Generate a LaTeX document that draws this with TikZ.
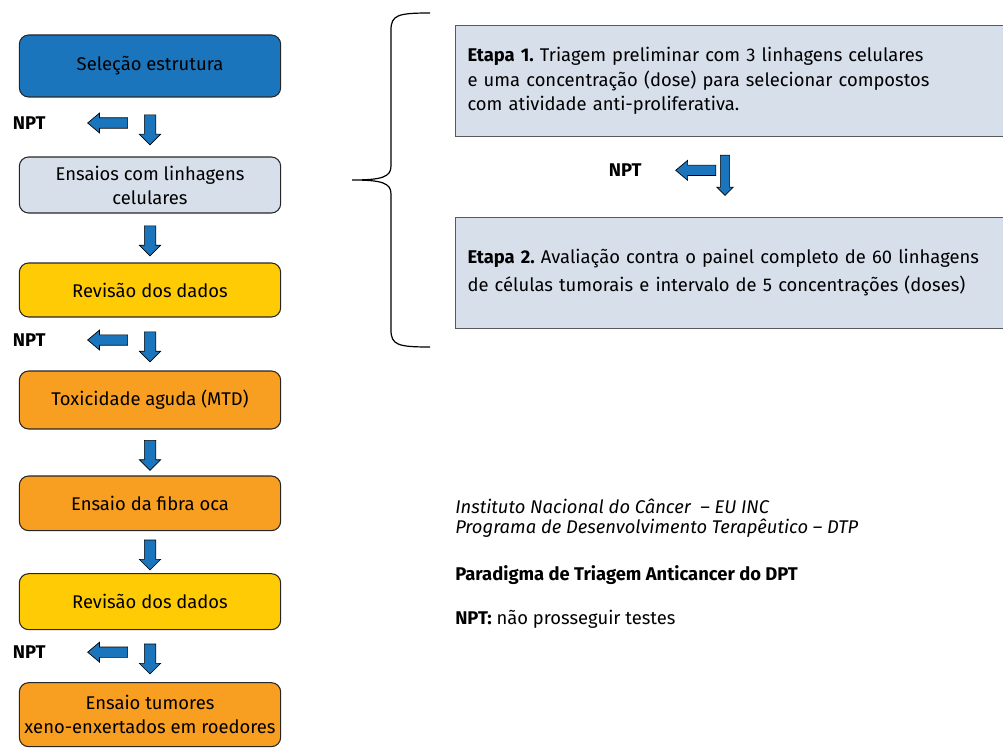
\documentclass[tikz,border=0pt]{standalone}
\usepackage{fontspec}
\setmainfont{Fira Sans}
\frenchspacing
\usetikzlibrary{arrows.meta,positioning,calc,shapes.arrows}
\definecolor{selblue}{HTML}{1B75BC}
\definecolor{cellgray}{HTML}{D6DFEA}
\definecolor{revyellow}{HTML}{FFCB05}
\definecolor{toxorange}{HTML}{F89E20}
\definecolor{arrblue}{HTML}{1B75BC}
\tikzset{
  every node/.append style={font=\fontsize{13.8}{18}\selectfont},
}
\tikzset{
  stage/.style={draw=black!85, line width=0.8pt, rounded corners=7pt, minimum width=196pt, align=center, inner sep=3pt, outer sep=0pt},
  etapa/.style={draw=black!65, line width=0.8pt, fill=cellgray, anchor=north west, minimum width=414pt, minimum height=83pt, text width=396pt, inner sep=9pt, align=left},
  downarr/.style={single arrow, shape border rotate=270, draw=black, line width=0.5pt, fill=arrblue, inner sep=4pt, minimum height=22.5pt, minimum width=15.75pt, single arrow head extend=3.75pt},
  leftarr/.style={single arrow, shape border rotate=180, draw=black, line width=0.5pt, fill=arrblue, inner sep=3.6pt, minimum height=30pt, minimum width=15pt, single arrow head extend=3.6pt, single arrow tip angle=80},
  npt/.style={font=\fontsize{13.8}{16}\selectfont\bfseries, inner sep=0pt}
}
\begin{document}
\begin{tikzpicture}[x=0.75pt, y=-0.75pt]
\useasboundingbox (0,0) rectangle (1003,749);

% Screening stages
\node[stage, fill=selblue, minimum height=46.5pt] (sel) at (150,66) {Seleção estrutura};
\node[stage, fill=cellgray, minimum height=42pt, below=45pt of sel] (ens) {Ensaios com linhagens\\celulares};
\node[stage, fill=revyellow, minimum height=40.5pt, below=37.5pt of ens] (rev1) {Revisão dos dados};
\node[stage, fill=toxorange, minimum height=43.5pt, below=40.5pt of rev1] (tox) {Toxicidade aguda (MTD)};
\node[stage, fill=toxorange, minimum height=41pt, below=35.25pt of tox] (fib) {Ensaio da fibra oca};
\node[stage, fill=revyellow, minimum height=42pt, below=32.25pt of fib] (rev2) {Revisão dos dados};
\node[stage, fill=toxorange, minimum height=48pt, below=39.75pt of rev2] (xen) {Ensaio tumores\\xeno-enxertados em roedores};

% Flow arrows
\node[downarr] (d1) at ($(sel.south)!0.5!(ens.north)$) {};
\node[downarr] (d2) at ($(ens.south)!0.5!(rev1.north)$) {};
\node[downarr] (d3) at ($(rev1.south)!0.5!(tox.north)$) {};
\node[downarr] (d4) at ($(tox.south)!0.5!(fib.north)$) {};
\node[downarr] (d5) at ($(fib.south)!0.5!(rev2.north)$) {};
\node[downarr] (d6) at ($(rev2.south)!0.5!(xen.north)$) {};

% Stop branches
\node[leftarr, left=12pt of d1, yshift=3pt] (l1) {};
\node[leftarr, left=12pt of d3, yshift=3pt] (l3) {};
\node[leftarr, left=12pt of d6, yshift=3pt] (l6) {};
\node[npt, left=31pt of l1] (n1) {NPT};
\node[npt, left=31pt of l3] (n3) {NPT};
\node[npt, left=31pt of l6] (n6) {NPT};

% Brace
\draw[line width=0.9pt] (430,13) .. controls (398,13) and (391,15) .. (391,30) -- (391,166)
  .. controls (391,177) and (382,180) .. (352,180)
  .. controls (382,180) and (391,183) .. (391,194) -- (391,330)
  .. controls (391,345) and (398,347) .. (430,347);

% Two-step screening
\node[etapa, font=\fontsize{13.8}{18.4}\selectfont] (e1) at (455,25) {\textbf{Etapa 1.} Triagem preliminar com 3 linhagens celulares\\e uma concentração (dose) para selecionar compostos\\com atividade anti-proliferativa.};
\node[etapa, font=\fontsize{13.8}{21}\selectfont] (e2) at (455,217) {\textbf{Etapa 2.} Avaliação contra o painel completo de 60 linhagens\\de células tumorais e intervalo de 5 concentrações (doses)};
\node[downarr, minimum height=30pt, minimum width=12pt, inner sep=3.2pt, single arrow head extend=2.5pt] (dm) at (725,173) {};
\node[leftarr, left=3pt of dm, yshift=2pt] (lm) {};
\node[npt, left=25pt of lm] (nm) {NPT};

% Notes
\node[anchor=west, align=left, inner sep=0pt, font=\fontsize{13.8}{15}\selectfont\itshape] (inst) at (455,518) {Instituto Nacional do Câncer ~– EU INC\\Programa de Desenvolvimento Terapêutico – DTP};
\node[npt, anchor=west] (par) at (455,575) {Paradigma de Triagem Anticancer do DPT};
\node[anchor=west, inner sep=0pt] (leg) at (455,619) {\textbf{NPT:} não prosseguir testes};
\end{tikzpicture}
\end{document}
